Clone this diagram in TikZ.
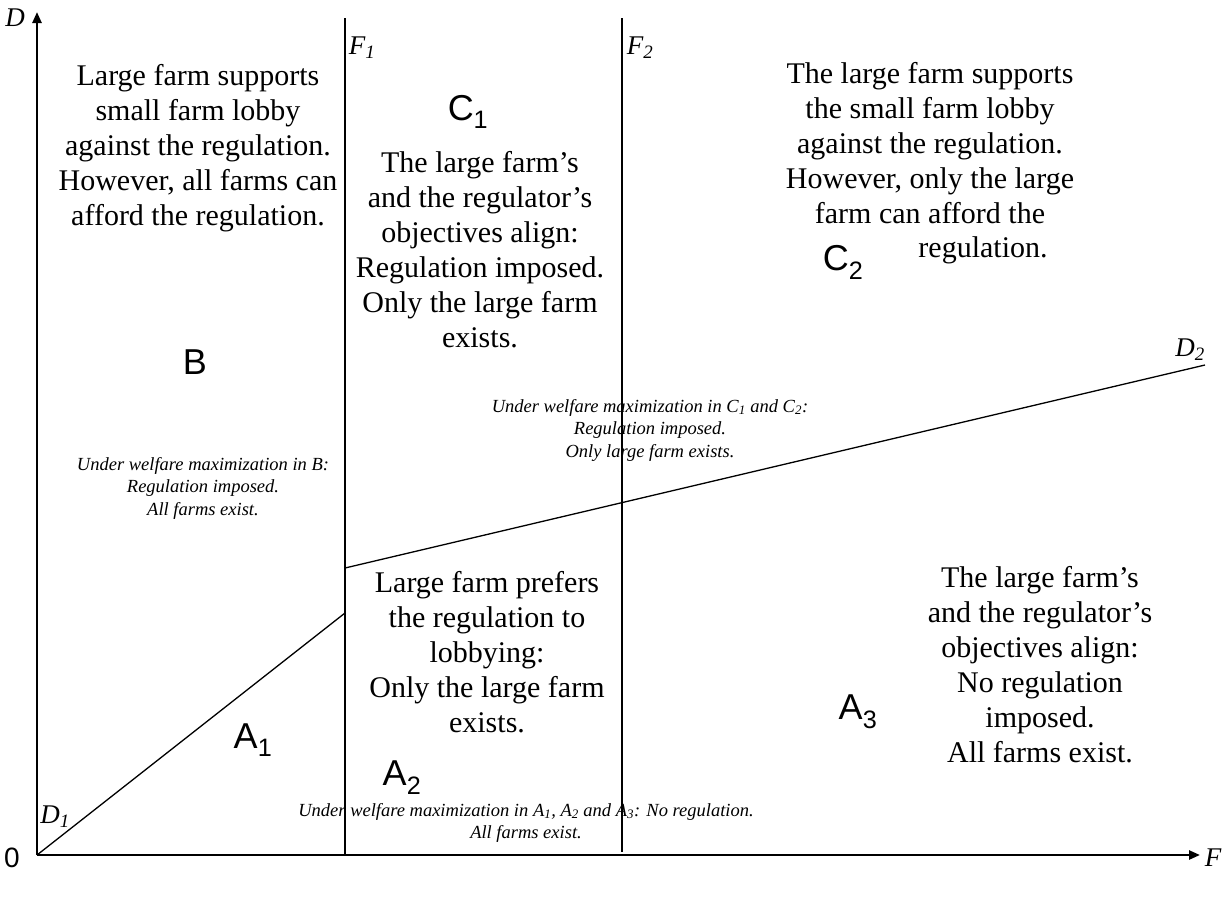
\documentclass[tikz,border=0pt]{standalone}
\usepackage{fontspec}
\setmainfont{Liberation Serif}
\newfontfamily\sansf{Liberation Sans}
\usetikzlibrary{arrows.meta}
\begin{document}
\begin{tikzpicture}[x=1pt,y=-1pt,
  thinline/.style={line width=1.3pt},
  axisline/.style={line width=2.4pt,-{Triangle[length=11pt,width=9pt]}},
  maintext/.style={align=center,font=\fontsize{30}{35}\selectfont,inner sep=0pt},
  notetext/.style={align=center,font=\fontsize{18.5}{22.5}\selectfont\itshape,inner sep=0pt},
  regionlabel/.style={font=\sansf\fontsize{36}{40}\selectfont,inner sep=0pt},
  axislabel/.style={font=\fontsize{27}{30}\selectfont\itshape,inner sep=0pt}]
\useasboundingbox (0,0) rectangle (1225,898);
% coordinates
\coordinate (O) at (37,855);
\coordinate (Ytop) at (37,12);
\coordinate (Xend) at (1200,855);
\coordinate (F1top) at (345,18);
\coordinate (F1bot) at (345,855);
\coordinate (F2top) at (622,18);
\coordinate (F2bot) at (622,852);
\coordinate (D1end) at (345,613);
\coordinate (D2start) at (345,568);
\coordinate (D2end) at (1205,365);
% lines
\draw[axisline] (O) -- (Ytop);
\draw[axisline] (O) -- (Xend);
\draw[thinline] (F1top) -- (F1bot);
\draw[thinline] (F2top) -- (F2bot);
\draw[thinline] (O) -- (D1end);
\draw[thinline] (D2start) -- (D2end);
% axis labels
\node[axislabel] (lD) at (15,18) {D};
\node[axislabel] (lF) at (1213,858) {F};
\node[font=\sansf\fontsize{28}{30}\selectfont,inner sep=0pt] (l0) at (12,858) {0};
\node[axislabel] (lF1) at (362,48) {F\textsubscript{1}};
\node[axislabel] (lF2) at (640,48) {F\textsubscript{2}};
\node[axislabel] (lD1) at (55,817) {D\textsubscript{1}};
\node[axislabel] (lD2) at (1190,350) {D\textsubscript{2}};
% region labels
\node[regionlabel] (lB) at (195,362) {B};
\node[regionlabel] (lC1) at (468,112) {C\textsubscript{1}};
\node[regionlabel] (lC2) at (843,262) {C\textsubscript{2}};
\node[regionlabel] (lA1) at (253,740) {A\textsubscript{1}};
\node[regionlabel] (lA2) at (402,778) {A\textsubscript{2}};
\node[regionlabel] (lA3) at (858,712) {A\textsubscript{3}};
% main texts
\node[maintext] (tB) at (198,148) {Large farm supports\\small farm lobby\\against the regulation.\\However, all farms can\\afford the regulation.};
\node[maintext] (tC1) at (480,250) {The large farm’s\\and the regulator’s\\objectives align:\\Regulation imposed.\\Only the large farm\\exists.};
\node[maintext] (tC2) at (930,143) {The large farm supports\\the small farm lobby\\against the regulation.\\However, only the large\\farm can afford the};
\node[maintext] (tC2b) at (983,250) {regulation.};
\node[maintext] (tA2) at (487,652) {Large farm prefers\\the regulation to\\lobbying:\\Only the large farm\\exists.};
\node[maintext] (tA3) at (1040,665) {The large farm’s\\and the regulator’s\\objectives align:\\No regulation\\imposed.\\All farms exist.};
% notes
\node[notetext] (nB) at (203,488) {Under welfare maximization in B:\\Regulation imposed.\\All farms exist.};
\node[notetext] (nC) at (650,430) {Under welfare maximization in C\textsubscript{1} and C\textsubscript{2}:\\Regulation imposed.\\Only large farm exists.};
\node[notetext] (nA) at (526,823) {Under welfare maximization in A\textsubscript{1}, A\textsubscript{2} and A\textsubscript{3}: No regulation.\\All farms exist.};
\end{tikzpicture}
\end{document}
